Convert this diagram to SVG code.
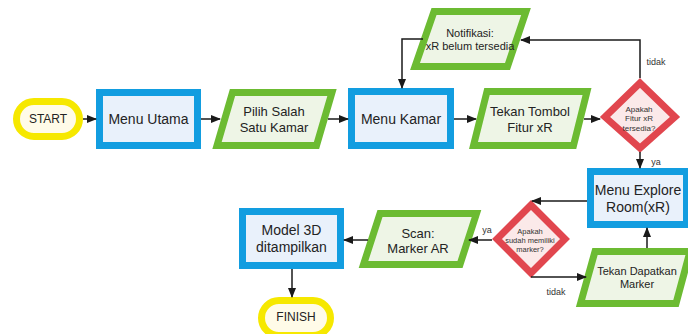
<svg xmlns="http://www.w3.org/2000/svg" width="688" height="334" viewBox="0 0 688 334">
<defs>
<marker id="ah" markerWidth="10" markerHeight="8" refX="9" refY="4" orient="auto" markerUnits="userSpaceOnUse">
<path d="M0,0 L10,4 L0,8 Z" fill="#1a1a1a"/>
</marker>
<style>
.term{fill:#fffbe8;stroke:#f6e800;stroke-width:7}
.proc{fill:#e9f1fb;stroke:#129de0;stroke-width:7}
.io{fill:#eef5e6;stroke:#6cbb32;stroke-width:7;stroke-linejoin:miter}
.dec{fill:#fbe9e9;stroke:#e1464e;stroke-width:7}
text{font-family:"Liberation Sans",Arial,sans-serif;fill:#232323;text-anchor:middle;dominant-baseline:central}
.t14{font-size:14px}
.t13{font-size:13px}
.t12{font-size:12px}
.t11{font-size:11px}
.t8{font-size:8px;fill:#333}
.t7{font-size:7.5px;fill:#333}
.lbl{font-size:9px;fill:#333}
.c{fill:none;stroke:#1a1a1a;stroke-width:1.5;marker-end:url(#ah)}
</style>
</defs>
<rect width="688" height="334" fill="#ffffff"/>

<g id="start">
<rect class="term" x="16.5" y="101.5" width="63" height="35" rx="17.5"/>
<text class="t12" x="48" y="119">START</text>
</g>

<g id="menu-utama">
<rect class="proc" x="99.5" y="92.5" width="98" height="53"/>
<text class="t14" x="148.5" y="119">Menu Utama</text>
</g>

<g id="pilih-kamar">
<polygon class="io" points="232.5,92.5 332,92.5 316.5,145.5 217,145.5"/>
<text class="t13" x="274" y="111">Pilih Salah</text>
<text class="t13" x="274" y="127">Satu Kamar</text>
</g>

<g id="menu-kamar">
<rect class="proc" x="351.5" y="91.5" width="99" height="54"/>
<text class="t14" x="401" y="119">Menu Kamar</text>
</g>

<g id="notifikasi">
<polygon class="io" points="434,11.5 526,11.5 507.5,66.5 415,66.5"/>
<text class="t11" x="470" y="33">Notifikasi:</text>
<text class="t11" x="470" y="46">xR belum tersedia</text>
</g>

<g id="tekan-tombol">
<polygon class="io" points="487,91.5 587,91.5 573.5,145.5 473.5,145.5"/>
<text class="t13" x="530" y="111">Tekan Tombol</text>
<text class="t13" x="530" y="127">Fitur xR</text>
</g>

<g id="cek-fitur">
<polygon class="dec" points="640,83 675,117 640,148 605,117"/>
<text class="t8" x="639" y="109">Apakah</text>
<text class="t8" x="639" y="118.5">Fitur xR</text>
<text class="t8" x="639" y="128">tersedia?</text>
</g>

<g id="menu-explore">
<rect class="proc" x="590.5" y="171.5" width="96" height="53"/>
<text class="t14" x="638" y="190">Menu Explore</text>
<text class="t14" x="638" y="207">Room(xR)</text>
</g>

<g id="cek-marker">
<polygon class="dec" points="531,205 565,239 531,273 497,239"/>
<text class="t7" x="530" y="231">Apakah</text>
<text class="t7" x="530" y="240">sudah memiliki</text>
<text class="t7" x="530" y="249">marker?</text>
</g>

<g id="tekan-dapatkan">
<polygon class="io" points="595,251.5 690,251.5 676,303.5 580.5,303.5"/>
<text class="t11" x="637" y="271">Tekan Dapatkan</text>
<text class="t11" x="637" y="284">Marker</text>
</g>

<g id="scan-marker">
<polygon class="io" points="380,213.5 476.5,213.5 460,264.5 363.5,264.5"/>
<text class="t13" x="418" y="233">Scan:</text>
<text class="t13" x="418" y="248">Marker AR</text>
</g>

<g id="model-3d">
<rect class="proc" x="242.5" y="211.5" width="98" height="54"/>
<text class="t14" x="291.5" y="230">Model 3D</text>
<text class="t14" x="291.5" y="247">ditampilkan</text>
</g>

<g id="finish">
<rect class="term" x="261.5" y="300.5" width="69" height="35" rx="17.5"/>
<text class="t12" x="296" y="317">FINISH</text>
</g>

<g id="connectors">
<path class="c" d="M83,119 H96"/>
<path class="c" d="M201,119 H220"/>
<path class="c" d="M328,119 H348"/>
<path class="c" d="M454,119 H476"/>
<path class="c" d="M584,119 H600"/>
<path class="c" d="M640,78 V40 H521"/>
<path class="c" d="M423,39 H402 V88"/>
<path class="c" d="M640,152 V168"/>
<path class="c" d="M587,201 H532"/>
<path class="c" d="M492,240 H469"/>
<path class="c" d="M368,240 H344"/>
<path class="c" d="M531,277 H586"/>
<path class="c" d="M647,248 V228"/>
<path class="c" d="M292,269 V297"/>
<text class="lbl" x="656" y="62">tidak</text>
<text class="lbl" x="656" y="162">ya</text>
<text class="lbl" x="487" y="230">ya</text>
<text class="lbl" x="556" y="292">tidak</text>
</g>
</svg>
